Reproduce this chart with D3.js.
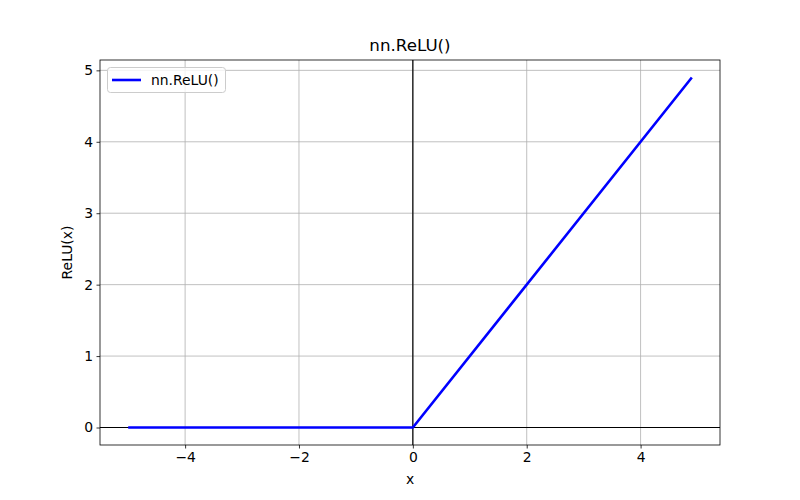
<!DOCTYPE html>
<html><head><meta charset="utf-8">
<script src="https://cdn.jsdelivr.net/npm/d3@7"></script>
<style>body{margin:0;background:#fff}text{font-family:"DejaVu Sans",sans-serif}</style>
</head><body>
<svg id="c" width="800" height="500"></svg>
<script>
const reluX = [-5, 0, 4.9];
const reluY = [0, 0, 4.9];
const xTicks = [-4, -2, 0, 2, 4];
const yTicks = [0, 1, 2, 3, 4, 5];
const titleText = "nn.ReLU()";
const seriesLabel = "nn.ReLU()";
const xLabel = "x";
const yLabel = "ReLU(x)";

const L = 100, R = 720, T = 60, B = 445;
const svg = d3.select("#c");
const xr = [d3.min(reluX), d3.max(reluX)], yr = [d3.min(reluY), d3.max(reluY)];
const xm = (xr[1]-xr[0])*0.05, ym = (yr[1]-yr[0])*0.05;
const x = d3.scaleLinear().domain([xr[0]-xm, xr[1]+xm]).range([L, R]);
const y = d3.scaleLinear().domain([yr[0]-ym, yr[1]+ym]).range([B, T]);

// grid
const g = svg.append("g");
xTicks.forEach(t => g.append("line").attr("x1", x(t)).attr("x2", x(t)).attr("y1", T).attr("y2", B)
  .attr("stroke", "#b0b0b0").attr("stroke-width", 0.8));
yTicks.forEach(t => g.append("line").attr("x1", L).attr("x2", R).attr("y1", y(t)).attr("y2", y(t))
  .attr("stroke", "#b0b0b0").attr("stroke-width", 0.8));

// axhline / axvline at 0
svg.append("line").attr("x1", L).attr("x2", R).attr("y1", y(0)).attr("y2", y(0)).attr("stroke", "#000").attr("stroke-width", 1.2);
svg.append("line").attr("x1", x(0)).attr("x2", x(0)).attr("y1", T).attr("y2", B).attr("stroke", "#000").attr("stroke-width", 1.2);

// line
const pts = reluX.map((v, i) => [v, reluY[i]]);
svg.append("path").datum(pts).attr("fill", "none").attr("stroke", "#0000ff").attr("stroke-width", 2.6)
  .attr("stroke-linejoin", "round")
  .attr("d", d3.line().x(d => x(d[0])).y(d => y(d[1])));

// frame
svg.append("rect").attr("x", L).attr("y", T).attr("width", R-L).attr("height", B-T)
  .attr("fill", "none").attr("stroke", "#000").attr("stroke-width", 0.8);

// axes
const fmt = d => d < 0 ? "\u2212" + Math.abs(d) : String(d);
const xa = svg.append("g").attr("transform", `translate(0,${B})`)
  .call(d3.axisBottom(x).tickValues(xTicks).tickFormat(fmt).tickSize(3.5).tickPadding(3.5));
const ya = svg.append("g").attr("transform", `translate(${L},0)`)
  .call(d3.axisLeft(y).tickValues(yTicks).tickFormat(fmt).tickSize(3.5).tickPadding(3.5));
[xa, ya].forEach(a => {
  a.select(".domain").remove();
  a.selectAll("line").attr("stroke", "#000").attr("stroke-width", 0.8);
  a.selectAll("text").attr("font-family", "DejaVu Sans").attr("font-size", 13.9).attr("fill", "#000");
});

// labels
svg.append("text").attr("x", (L+R)/2).attr("y", T-9).attr("text-anchor", "middle")
  .attr("font-size", 16.7).text(titleText);
svg.append("text").attr("x", (L+R)/2).attr("y", 484).attr("text-anchor", "middle")
  .attr("font-size", 13.9).text(xLabel);
svg.append("text").attr("transform", `translate(72,${(T+B)/2}) rotate(-90)`).attr("text-anchor", "middle")
  .attr("font-size", 13.9).text(yLabel);

// legend
const lg = svg.append("g");
lg.append("rect").attr("x", 107.5).attr("y", 67.5).attr("width", 118).attr("height", 25).attr("rx", 3)
  .attr("fill", "#fff").attr("fill-opacity", 0.8).attr("stroke", "#cccccc").attr("stroke-width", 1);
lg.append("line").attr("x1", 112).attr("x2", 141).attr("y1", 80).attr("y2", 80)
  .attr("stroke", "#0000ff").attr("stroke-width", 2.6);
lg.append("text").attr("x", 151).attr("y", 85).attr("font-size", 13.9).text(seriesLabel);
</script>
</body></html>
